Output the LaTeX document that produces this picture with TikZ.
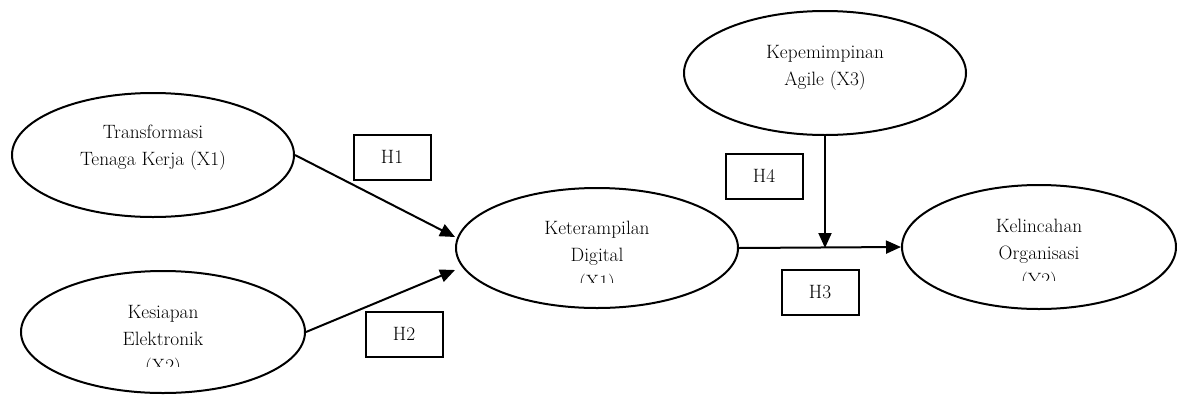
\documentclass[tikz,border=0pt]{standalone}
\usepackage{fontspec}
\usetikzlibrary{shapes.geometric,arrows.meta,calc}
\begin{document}
\begin{tikzpicture}[x=1pt,y=-1pt,
  latent/.style={draw,ellipse,line width=2pt,inner sep=0pt},
  lbl/.style={align=center,inner sep=0pt,font=\fontsize{19.3}{27}\selectfont},
  hbox/.style={draw,line width=2pt,minimum width=77pt,minimum height=45pt,inner sep=0pt,font=\fontsize{19.3}{20}\selectfont},
  arr/.style={line width=2pt,-{Triangle[length=15pt,width=13pt]}}]
\useasboundingbox (0,0) rectangle (1177,394);
% ellipses
\node[latent,minimum width=282pt,minimum height=124pt] (tk) at (153,155) {};
\node[latent,minimum width=284pt,minimum height=122pt] (kes) at (163,332) {};
\node[latent,minimum width=282pt,minimum height=120pt] (ket) at (597,248) {};
\node[latent,minimum width=282pt,minimum height=124pt] (kep) at (825,73) {};
\node[latent,minimum width=274pt,minimum height=124pt] (kel) at (1039,247) {};
% texts
\node[lbl] (tkt) at (153,148) {Transformasi\\Tenaga Kerja (X1)};
\node[lbl] (kept) at (825,68) {Kepemimpinan\\Agile (X3)};
\begin{scope}
\clip (20,290) rectangle (300,366);
\node[lbl,anchor=north] (kest) at (163,305) {Kesiapan\\Elektronik\\(X2)};
\end{scope}
\begin{scope}
\clip (460,200) rectangle (730,282);
\node[lbl,anchor=north] (kett) at (597,221) {Keterampilan\\Digital\\(X1)};
\end{scope}
\begin{scope}
\clip (910,200) rectangle (1170,280);
\node[lbl,anchor=north] (kelt) at (1039,219) {Kelincahan\\Organisasi\\(Y2)};
\end{scope}
% boxes
\node[hbox] (h1) at (392,157) {H1};
\node[hbox] (h2) at (404,334) {H2};
\node[hbox] (h4) at (764,176) {H4};
\node[hbox] (h3) at (820,292) {H3};
% connectors
\coordinate (k1) at ($(ket.west)+(0,-11)$);
\coordinate (k2) at ($(ket.west)+(0,22)$);
\coordinate (m) at (kep.south |- ket.east);
\draw[arr] (tk.east) -- (k1);
\draw[arr] (kes.east) -- (k2);
\draw[arr] (ket.east) -- (kel.west);
\draw[arr] (kep.south) -- (m);
\end{tikzpicture}
\end{document}
